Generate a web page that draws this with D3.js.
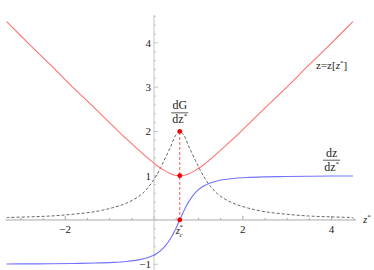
<!DOCTYPE html>
<html>
<head>
<meta charset="utf-8">
<script src="https://cdnjs.cloudflare.com/ajax/libs/d3/7.8.5/d3.min.js"></script>
<style>
  body { margin: 0; background: #fff; }
</style>
</head>
<body>
<div id="chart"></div>
<script>
// values
var zStar = [-3.32, -2.82, -2.32, -1.82, -1.32, -0.92, -0.62, -0.32, -0.12, 0.08, 0.23, 0.38, 0.48,
             0.58, 0.68, 0.78, 0.93, 1.08, 1.28, 1.48, 1.78, 2.08, 2.48, 2.98, 3.48, 3.98, 4.48];
var zOfZStar = [4.48, 3.98, 3.49, 2.99, 2.51, 2.12, 1.83, 1.56, 1.38, 1.22, 1.12, 1.04, 1.01,
                1.00, 1.01, 1.04, 1.12, 1.22, 1.38, 1.56, 1.83, 2.12, 2.51, 2.99, 3.49, 3.98, 4.48];
var dzdzStar = [-0.993, -0.992, -0.988, -0.983, -0.973, -0.958, -0.937, -0.896, -0.842, -0.745, -0.616, -0.408, -0.218,
                0, 0.218, 0.408, 0.616, 0.745, 0.842, 0.896, 0.937, 0.958, 0.973, 0.983, 0.988, 0.992, 0.993];
var dGdzStar = [0.055, 0.07, 0.09, 0.13, 0.19, 0.28, 0.38, 0.55, 0.75, 1.05, 1.35, 1.67, 1.9,
                2.0, 1.9, 1.67, 1.35, 1.05, 0.75, 0.55, 0.38, 0.28, 0.19, 0.13, 0.09, 0.07, 0.055];
var zc = 0.58;
var markedValues = [0, 1, 2];
var xTickLabels = [-2, 2, 4];
var yTickLabels = [-1, 1, 2, 3, 4];

(function() {
  var width = 374,
      height = 270,
      serif = "'Liberation Serif', 'DejaVu Serif', serif";

  var svg = d3.select("#chart")
        .append("svg")
        .attr("width", width)
        .attr("height", height)
        .attr("font-family", serif);

  var x = d3.scaleLinear().domain([-3.35, 4.55]).range([5.3, 356]);
  var y = d3.scaleLinear().domain([-1.13, 4.63]).range([270, 15]);

  // axes, Mathematica style, crossing at the origin
  var xAxis = svg.append("g").attr("transform", "translate(0," + y(0) + ")");
  xAxis.append("line")
    .attr("x1", x.range()[0]).attr("x2", x.range()[1])
    .attr("stroke", "#aaa").attr("stroke-width", 1);
  xAxis.selectAll(".minor")
    .data(d3.range(-3, 4.6, 0.5))
    .enter().append("line")
    .attr("x1", function(d){ return x(d); })
    .attr("x2", function(d){ return x(d); })
    .attr("y1", 0)
    .attr("y2", function(d){ return d % 2 === 0 ? -4 : -2; })
    .attr("stroke", "#aaa");
  xAxis.selectAll(".lab")
    .data(xTickLabels)
    .enter().append("text")
    .attr("x", function(d){ return x(d); })
    .attr("y", 13)
    .attr("text-anchor", "middle")
    .attr("font-size", 11)
    .attr("fill", "#222")
    .text(function(d){ return String(d).replace("-", "\u2212"); });

  var yAxis = svg.append("g").attr("transform", "translate(" + x(0) + ",0)");
  yAxis.append("line")
    .attr("y1", y.range()[0]).attr("y2", y.range()[1])
    .attr("stroke", "#c4c4c4").attr("stroke-width", 1);
  yAxis.selectAll(".minor")
    .data(d3.range(-1, 4.61, 0.2))
    .enter().append("line")
    .attr("y1", function(d){ return y(d); })
    .attr("y2", function(d){ return y(d); })
    .attr("x1", 0)
    .attr("x2", function(d){ return Math.abs(d - Math.round(d)) < 1e-6 ? 4 : 2; })
    .attr("stroke", "#c4c4c4");
  yAxis.selectAll(".lab")
    .data(yTickLabels)
    .enter().append("text")
    .attr("x", -3)
    .attr("y", function(d){ return y(d) + 3.8; })
    .attr("text-anchor", "end")
    .attr("font-size", 11)
    .attr("fill", "#222")
    .text(function(d){ return String(d).replace("-", "\u2212"); });

  svg.append("text")
    .attr("x", 363).attr("y", y(0) + 3)
    .attr("font-size", 11)
    .attr("font-style", "italic")
    .attr("fill", "#222")
    .text("z")
    .append("tspan").attr("dy", -4).attr("font-size", 7).attr("font-style", "normal").text("*");

  var line = d3.line()
    .x(function(d){ return x(d[0]); })
    .y(function(d){ return y(d[1]); })
    .curve(d3.curveCatmullRom);

  svg.append("path")
    .datum(d3.zip(zStar, dGdzStar))
    .attr("d", line)
    .attr("fill", "none")
    .attr("stroke", "#555")
    .attr("stroke-width", 0.9)
    .attr("stroke-dasharray", "3,2");

  svg.append("path")
    .datum(d3.zip(zStar, zOfZStar))
    .attr("d", line)
    .attr("fill", "none")
    .attr("stroke", "#ff7373")
    .attr("stroke-width", 1.1);

  svg.append("path")
    .datum(d3.zip(zStar, dzdzStar))
    .attr("d", line)
    .attr("fill", "none")
    .attr("stroke", "#7373ff")
    .attr("stroke-width", 1.1);

  // marker at z_c*
  svg.append("line")
    .attr("x1", x(zc)).attr("x2", x(zc))
    .attr("y1", y(0)).attr("y2", y(2))
    .attr("stroke", "#f55")
    .attr("stroke-dasharray", "3,2");

  svg.selectAll(".dot")
    .data(markedValues)
    .enter().append("circle")
    .attr("cx", x(zc))
    .attr("cy", function(d){ return y(d); })
    .attr("r", 2.4)
    .attr("fill", "#e00");

  // labels
  function fraction(cx, cy, num) {
    var g = svg.append("g").attr("transform", "translate(" + cx + "," + cy + ")");
    g.append("text").attr("y", -3.5).attr("text-anchor", "middle").attr("font-size", 12).attr("fill", "#222").text(num);
    g.append("line").attr("x1", -8.5).attr("x2", 8.5).attr("stroke", "#333").attr("stroke-width", 0.8);
    var den = g.append("text").attr("y", 10.5).attr("text-anchor", "middle").attr("font-size", 12).attr("fill", "#222").text("dz");
    den.append("tspan").attr("dy", -5).attr("font-size", 7).text("*");
  }
  fraction(x(zc), y(2.42), "dG");
  fraction(x(4.0), y(1.35), "dz");

  var zl = svg.append("text")
    .attr("x", x(4.0)).attr("y", y(3.5) + 3.5)
    .attr("text-anchor", "middle")
    .attr("font-size", 11)
    .attr("fill", "#222")
    .text("z=z[");
  zl.append("tspan").attr("font-style", "italic").text("z");
  zl.append("tspan").attr("dy", -4).attr("font-size", 7).text("*");
  zl.append("tspan").attr("dy", 4).text("]");

  var zcl = svg.append("text")
    .attr("x", x(zc) - 4).attr("y", y(0) + 14)
    .attr("font-size", 11)
    .attr("font-style", "italic")
    .attr("fill", "#222")
    .text("z");
  zcl.append("tspan").attr("dx", -0.5).attr("dy", -5).attr("font-size", 7).attr("font-style", "normal").text("*");
  zcl.append("tspan").attr("dx", -3.5).attr("dy", 8).attr("font-size", 7).text("c");
})();
</script>
</body>
</html>
